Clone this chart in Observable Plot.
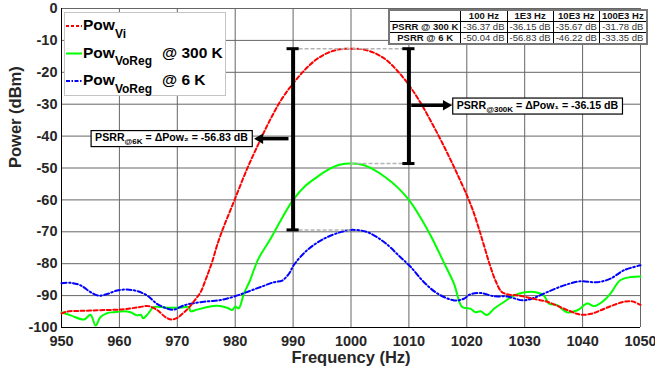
<!DOCTYPE html>
<html><head><meta charset="utf-8">
<script src="https://cdn.jsdelivr.net/npm/d3@7"></script>
<script src="https://cdn.jsdelivr.net/npm/@observablehq/plot@0.6"></script>
<style>
body{margin:0;background:#fff;}
#wrap{position:relative;width:655px;height:376px;font-family:"Liberation Sans",Arial,sans-serif;}
#psrr{position:absolute;left:388px;top:9px;border-collapse:collapse;font-size:9.5px;border:2px solid #777;background:#fff;}
#psrr td,#psrr th{border:1px solid #000;padding:0 2px;height:10px;line-height:10px;text-align:center;white-space:nowrap;font-size:9.5px;}
#psrr th{font-weight:bold;color:#111;}
#psrr td{color:#333;font-weight:normal;}
</style></head><body><div id="wrap"></div>
<script>
const xTicks = [950, 960, 970, 980, 990, 1000, 1010, 1020, 1030, 1040, 1050];
const yTicks = [0, -10, -20, -30, -40, -50, -60, -70, -80, -90, -100];

// Pow_Vi (red dashed)
const freqVi = [950, 951, 953, 955, 958, 960, 962, 963.5, 965, 966.5, 968, 969, 970, 971, 972, 973, 974, 975, 976, 977, 978, 979, 980, 982, 984, 986, 988, 990, 992, 994, 996, 998, 1000, 1002, 1004, 1006, 1008, 1010, 1012, 1014, 1016, 1018, 1020, 1021, 1022, 1023, 1024, 1025, 1026, 1027, 1029, 1031.5, 1034, 1036, 1038, 1039, 1040, 1041.5, 1043, 1045, 1047, 1048.5, 1050];
const powVi = [-95.6, -95, -94.8, -94.7, -94.5, -94.4, -94, -93.6, -93.3, -94.5, -96.8, -97.5, -97, -95.5, -93.8, -91.5, -89, -84.5, -79.5, -73.5, -68.5, -64, -59.5, -50.5, -42.5, -35, -28.5, -23.5, -19.3, -16, -13.9, -12.8, -12.6, -12.8, -13.9, -16, -19.5, -24, -29.5, -36, -43, -50.5, -58.5, -63, -68.5, -74.5, -80.5, -85.5, -88.8, -89.6, -90, -91, -92, -93.5, -95, -95.7, -96, -95.7, -94.7, -93.2, -92, -91.8, -92.9];

// Pow_VoReg @ 300 K (green solid)
const freq300K = [950, 951.6, 953.9, 955, 955.9, 956.7, 957.9, 959, 960.8, 961.9, 963.1, 963.7, 964.1, 964.9, 965.9, 967.1, 968.8, 970.5, 972, 972.3, 973.4, 975.2, 976.9, 978.6, 979.5, 980, 980.6, 981.5, 982.5, 984, 986, 988, 990, 992, 994, 996, 998, 1000, 1002, 1004, 1006, 1008, 1010, 1012, 1014, 1016, 1017.8, 1019.2, 1020.6, 1021.5, 1022.4, 1023.5, 1024.7, 1026.4, 1028.1, 1029.8, 1032.1, 1033.3, 1034.2, 1035.6, 1037.3, 1039.1, 1040.8, 1042, 1043.7, 1044.8, 1046.5, 1048.3, 1050];
const pow300K = [-95.2, -96.2, -97.5, -96, -99.4, -96.8, -95.5, -95.2, -94.9, -95.2, -96.2, -96, -97.1, -95.8, -93.6, -93.6, -93.8, -93.8, -93.6, -94.9, -94.4, -93.6, -93.2, -93.8, -94.5, -93.4, -94, -89.4, -85.5, -78.5, -72.5, -66, -60, -55.8, -53, -50.6, -49, -48.6, -49, -50.6, -53, -56, -60, -65.5, -72, -79.5, -86.3, -93.6, -94.1, -95.2, -94.9, -96.1, -94.1, -92, -90, -89, -89, -90, -92.5, -93, -95.2, -94.6, -92.5, -93.3, -91.5, -89.4, -85.2, -84.2, -84];

// Pow_VoReg @ 6 K (blue dash-dot)
const freq6K = [950, 951.6, 953.3, 955, 956.4, 957.9, 959.6, 961.3, 963.1, 964.8, 966.5, 968.3, 969.4, 971.1, 972.8, 975.2, 977.5, 979.8, 982.3, 984.4, 986.7, 988.1, 989.3, 990.1, 992.4, 995.3, 998.2, 1000, 1002.8, 1005.7, 1008.5, 1010.3, 1012.6, 1014.9, 1017.8, 1019.5, 1020.6, 1022.4, 1024.7, 1027, 1029.8, 1031.6, 1033.9, 1036.8, 1039.6, 1042.5, 1044.8, 1047.1, 1050];
const pow6K = [-86.1, -86, -86.8, -88.9, -90, -89.5, -88.4, -88.1, -88.6, -90, -92.6, -94.1, -94.4, -93.1, -92.4, -91.8, -91.4, -90.3, -88.7, -87.3, -85.8, -85.3, -83.1, -80.5, -75.8, -72.2, -70.1, -69.4, -70.1, -73.2, -77.9, -81, -85.8, -89.3, -91.5, -91, -89.6, -89.2, -90.2, -90.3, -91.5, -90.7, -88.9, -86.8, -85.5, -85.8, -84.7, -82.1, -80.5];

// PSRR annotation values
const barX = [990, 1010];
const barTop = [-12.6, -12.6];
const barBottom = [-69.4, -48.6];
const refLineY = [-12.6, -48.6, -69.4];
const refLineX1 = [990, 1000, 990];
const refLineX2 = [1010, 1010, 1000];
const arrowFrom = [989.2, 1010.4];
const arrowTo = [984.3, 1016.4];
const arrowY = [-40.8, -30.3];
const labelX = [969, 1032.2];
const labelY = [-40.5, -30.3];
const labelText = ["PSRR_{@6K} = ΔPow₂ = -56.83 dB", "PSRR_{@300K} = ΔPow₁ = -36.15 dB"];

// table
const tableCols = ["100 Hz", "1E3 Hz", "10E3 Hz", "100E3 Hz"];
const tableRows = ["PSRR @ 300 K", "PSRR @ 6 K"];
const tableVals = [["-36.37 dB", "-36.15 dB", "-35.67 dB", "-31.78 dB"], ["-50.04 dB", "-56.83 dB", "-46.22 dB", "-33.35 dB"]];

// legend
const legendMain = ["Pow", "Pow", "Pow"];
const legendSub = ["Vi", "VoReg", "VoReg"];
const legendTail = ["", "@ 300 K", "@ 6 K"];
const colors = ["#ff0000", "#00ff00", "#0000ff"];
const dashes = ["4,2.5", null, "5,2.5,1.5,2.5"];

const vi = freqVi.map((f, i) => ({f, p: powVi[i]}));
const k300 = freq300K.map((f, i) => ({f, p: pow300K[i]}));
const k6 = freq6K.map((f, i) => ({f, p: pow6K[i]}));
const bars = barX.map((x, i) => ({x, y1: barTop[i], y2: barBottom[i]}));
const caps = bars.flatMap(b => [{x1: b.x - 1.05, x2: b.x + 1.05, y: b.y1}, {x1: b.x - 1.05, x2: b.x + 1.05, y: b.y2}]);
const refs = refLineY.map((y, i) => ({y, x1: refLineX1[i], x2: refLineX2[i]}));
const arrows = arrowFrom.map((x1, i) => ({x1, x2: arrowTo[i], y: arrowY[i]}));
const labels = labelText.map((t, i) => ({x: labelX[i], y: labelY[i], t}));

const ink = "#262626";
const plot = Plot.plot({
  width: 655, height: 376,
  marginLeft: 61, marginRight: 15, marginTop: 8, marginBottom: 49,
  style: {fontFamily: "'Liberation Sans', Arial, sans-serif", fontWeight: "bold", background: "white", overflow: "visible"},
  x: {domain: [950, 1050]},
  y: {domain: [-100, 0]},
  marks: [
    Plot.gridX(xTicks, {stroke: "#666", strokeOpacity: 1, strokeWidth: 1}),
    Plot.gridY(yTicks, {stroke: "#666", strokeOpacity: 1, strokeWidth: 1}),
    Plot.ruleX([950], {stroke: "#000"}),
    Plot.ruleY([-100], {stroke: "#000"}),
    Plot.axisX(xTicks, {tickSize: 0, tickPadding: 8, fontSize: 14.5, fontWeight: "bold", fill: ink, tickFormat: d => String(d), label: null}),
    Plot.axisY(yTicks, {tickSize: 0, tickPadding: 4, fontSize: 14.5, fontWeight: "bold", fill: ink, tickFormat: d => String(d), label: null}),
    Plot.text(["Frequency (Hz)"], {text: d => d, frameAnchor: "bottom", dy: 35, fontSize: 16.5, fontWeight: "bold", fill: ink}),
    Plot.text(["Power (dBm)"], {text: d => d, frameAnchor: "left", dx: -46, rotate: -90, fontSize: 16.5, fontWeight: "bold", fill: ink}),
    Plot.line(k300, {x: "f", y: "p", stroke: colors[1], strokeWidth: 2, curve: "catmull-rom"}),
    Plot.line(k6, {x: "f", y: "p", stroke: colors[2], strokeWidth: 2, strokeDasharray: dashes[2], curve: "catmull-rom"}),
    Plot.line(vi, {x: "f", y: "p", stroke: colors[0], strokeWidth: 2, strokeDasharray: dashes[0], curve: "catmull-rom"}),
    Plot.ruleY(refs, {y: "y", x1: "x1", x2: "x2", stroke: "#b4b4b4", strokeWidth: 1.5, strokeDasharray: "4,2"}),
    Plot.ruleX(bars, {x: "x", y1: "y1", y2: "y2", stroke: "#000", strokeWidth: 4}),
    Plot.ruleY(caps, {y: "y", x1: "x1", x2: "x2", stroke: "#000", strokeWidth: 3}),
    Plot.link(arrows, {x1: "x1", x2: "x2", y1: "y", y2: "y", stroke: "#000", strokeWidth: 3.5}),
    Plot.dot(arrows, {x: "x2", y: "y", symbol: "triangle2", r: 5, fill: "#000", stroke: null, rotate: d => d.x2 < d.x1 ? -90 : 90}),
    Plot.text(labels, {x: "x", y: "y", text: "t", fontSize: 10.6, fontWeight: "bold", fill: "#000", className: "ann"})
  ]
});
document.getElementById("wrap").appendChild(plot);
const svg = d3.select(plot);

function richify(el, str, subSize, shift) {
  const t = d3.select(el);
  t.text(null);
  const re = /_\{([^}]*)\}/g;
  let last = 0, m, pending = 0;
  const add = (s, sub) => {
    const ts = t.append("tspan").text(s);
    if (sub) { ts.attr("font-size", subSize).attr("dy", shift); pending = -shift; }
    else if (pending) { ts.attr("dy", pending); pending = 0; }
  };
  while ((m = re.exec(str))) {
    if (m.index > last) add(str.slice(last, m.index), false);
    add(m[1], true);
    last = re.lastIndex;
  }
  if (last < str.length) add(str.slice(last), false);
}

svg.selectAll("g.ann text").each(function(_, i) {
  richify(this, labels[i].t, 8, 3);
  const bb = this.getBBox();
  const r = d3.select(this.parentNode).insert("rect", () => this)
    .attr("x", bb.x - 4).attr("y", bb.y - 0.5).attr("width", bb.width + 8).attr("height", bb.height + 1)
    .attr("fill", "#fff").attr("stroke", "#000").attr("stroke-width", 1.2);
  const tr = this.getAttribute("transform");
  if (tr) r.attr("transform", tr);
});

// legend
const lg = svg.append("g").attr("text-anchor", "start");
lg.append("rect").attr("x", 64.5).attr("y", 12.5).attr("width", 161).attr("height", 83)
  .attr("fill", "#fff").attr("stroke", "#c4c4c4").attr("stroke-width", 1);
const rowY = [26, 53.5, 81];
legendMain.forEach((m, i) => {
  const ln = lg.append("line").attr("x1", 66).attr("x2", 82).attr("y1", rowY[i]).attr("y2", rowY[i])
    .attr("stroke", colors[i]).attr("stroke-width", 2);
  if (dashes[i]) ln.attr("stroke-dasharray", i === 0 ? "3,2" : "4,1.5,1.5,1.5");
  const t = lg.append("text").attr("x", 83).attr("y", rowY[i] + 4).attr("text-anchor", "start").attr("font-size", 15.5).attr("font-weight", "bold").attr("fill", "#000");
  t.append("tspan").text(m);
  t.append("tspan").attr("font-size", 12).attr("dy", 7.5).text(legendSub[i]);
  if (legendTail[i]) lg.append("text").attr("x", 162).attr("y", rowY[i] + 4).attr("text-anchor", "start").attr("font-size", 15.5).attr("font-weight", "bold").attr("fill", "#000").text(legendTail[i]);
});

// table
const table = d3.select("#wrap").append("table").attr("id", "psrr");
const hr = table.append("tr");
hr.append("th").style("width", "66px");
tableCols.forEach(c => hr.append("th").text(c));
tableRows.forEach((r, i) => {
  const tr = table.append("tr");
  tr.append("th").text(r);
  tableVals[i].forEach(v => tr.append("td").text(v));
});
</script>
</body></html>
